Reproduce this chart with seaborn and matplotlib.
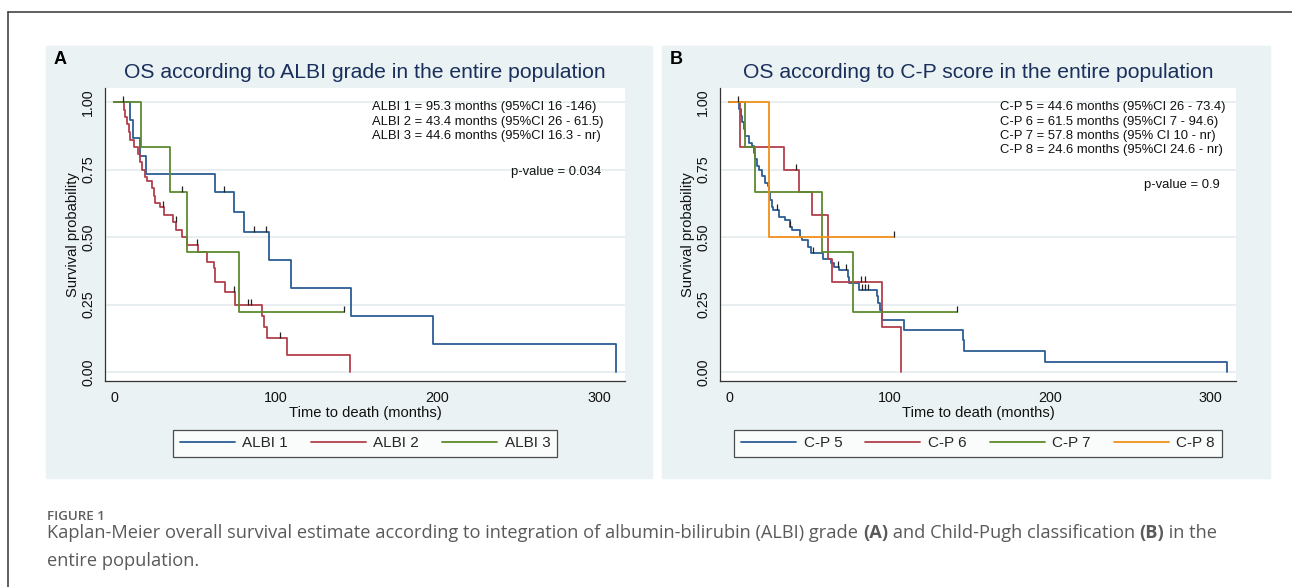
import numpy as np
import pandas as pd
import matplotlib
matplotlib.use("Agg")
import matplotlib.pyplot as plt
import seaborn as sns
from matplotlib.patches import Rectangle
from matplotlib.lines import Line2D

# ---- panel A: ALBI grade (Kaplan-Meier steps) ----
albi1_time = [0, 9.9, 11.5, 16.1, 19.8, 62.5, 73.8, 80.4, 95.5, 109.3, 146.5, 196.9, 310.3]
albi1_surv = [1.0, 0.933, 0.867, 0.80, 0.733, 0.667, 0.593, 0.519, 0.415, 0.311, 0.207, 0.104, 0.0]
albi1_cens = [67.6, 86.6, 93.8]

albi2_time = [0, 6.2, 6.8, 7.8, 8.9, 9.9, 12.0, 14.4, 15.7, 17.1, 18.8, 20.2, 23.3, 24.3, 25.4,
              28.0, 31.0, 36.0, 38.4, 42.0, 45.0, 52.0, 57.3, 61.4, 62.5, 68.6, 74.8, 91.3, 92.4,
              94.6, 107.0, 145.9]
albi2_surv = [1.0, 0.972, 0.944, 0.917, 0.889, 0.861, 0.833, 0.806, 0.778, 0.750, 0.722, 0.708,
              0.681, 0.653, 0.625, 0.612, 0.583, 0.555, 0.527, 0.500, 0.472, 0.445, 0.408, 0.384,
              0.334, 0.297, 0.248, 0.208, 0.166, 0.125, 0.062, 0.0]
albi2_cens = [5.2, 30.3, 38.1, 51.1, 73.8, 83.0, 84.7, 102.7]

albi3_time = [0, 16.5, 34.6, 45.0, 77.1, 141.9]
albi3_surv = [1.0, 0.833, 0.667, 0.444, 0.222, 0.222]
albi3_cens = [41.9, 141.9]

# ---- panel B: Child-Pugh score ----
cp5_time = [0, 6.0, 7.0, 8.0, 9.0, 10.1, 12.0, 14.0, 15.2, 16.0, 17.0, 18.5, 20.4, 22.0, 24.0,
            25.0, 25.5, 26.5, 27.5, 30.7, 35.0, 37.9, 39.0, 44.0, 45.1, 49.0, 51.1, 58.5, 63.5,
            65.6, 68.6, 73.8, 74.8, 80.6, 91.9, 92.8, 94.0, 95.4, 109.2, 145.5, 146.3, 196.8, 310.4]
cp5_surv = [1.0, 0.975, 0.95, 0.925, 0.90, 0.875, 0.85, 0.838, 0.813, 0.788, 0.763, 0.75, 0.725,
            0.70, 0.688, 0.663, 0.638, 0.613, 0.60, 0.575, 0.563, 0.538, 0.525, 0.50, 0.488, 0.463,
            0.44, 0.42, 0.405, 0.39, 0.378, 0.353, 0.33, 0.305, 0.28, 0.255, 0.23, 0.193, 0.156,
            0.117, 0.079, 0.038, 0.0]
cp5_cens = [5.2, 30.0, 38.1, 52.1, 67.6, 72.8, 83.0, 84.5, 86.2]

cp6_time = [0, 6.8, 34.2, 43.3, 51.8, 61.4, 64.1, 95.0, 106.8]
cp6_surv = [1.0, 0.833, 0.75, 0.667, 0.583, 0.417, 0.333, 0.167, 0.0]
cp6_cens = [41.9, 82.4, 84.5]

cp7_time = [0, 9.9, 16.1, 57.9, 76.9, 141.8]
cp7_surv = [1.0, 0.833, 0.667, 0.444, 0.222, 0.222]
cp7_cens = [141.8]

cp8_time = [0, 24.5, 102.7]
cp8_surv = [1.0, 0.5, 0.5]
cp8_cens = [102.7]

W, H = 1292, 587
BG = "#eaf2f3"
BLUE, RED, GREEN, ORANGE = "#2c5d94", "#b2404c", "#5d8a2f", "#f0901a"
ARIAL = ["Liberation Sans", "DejaVu Sans"]

sns.set_theme(style="white")
plt.rcParams["font.family"] = ARIAL

fig = plt.figure(figsize=(W / 100, H / 100), dpi=100)


def fx(px):
    return px / W


def fy(py):
    return 1 - py / H


def km(ax, t, s, cens, color, label):
    df = pd.DataFrame({"time": t, "surv": s})
    sns.lineplot(data=df, x="time", y="surv", ax=ax, drawstyle="steps-post", color=color,
                 lw=1.3, estimator=None, sort=False, label=label, legend=False)
    idx = np.searchsorted(np.array(t), np.array(cens), side="right") - 1
    lev = np.array(s)[idx]
    ax.vlines(cens, lev, lev + 0.022, color="#222222", lw=0.9, zorder=5)


notes_x = {"A": 372, "B": 1000}
ptxt_x = {"A": 601, "B": 1220}


def panel(x0, x1, ax_l, ax_r, letter, title, series, notes, ptxt, py_p):
    fig.patches.append(Rectangle((fx(x0), fy(478)), fx(x1 - x0), (478 - 46) / H,
                                 transform=fig.transFigure, color=BG, zorder=-10))
    ax = fig.add_axes([fx(ax_l), fy(381), fx(ax_r - ax_l), (381 - 88) / H])
    ax.set_facecolor("white")
    for t, s, c, col, lab in series:
        km(ax, t, s, c, col, lab)
    ax.set_xlim(-5.8, 316)
    ax.set_ylim(-0.033, 1.052)
    ax.set_xticks([0, 100, 200, 300])
    ax.set_yticks([0, 0.25, 0.5, 0.75, 1.0])
    ax.set_yticklabels(["0.00", "0.25", "0.50", "0.75", "1.00"], rotation=90, va="center")
    ax.yaxis.grid(True, color="#e3ebed", lw=1.1)
    ax.xaxis.grid(False)
    for sp in ["top", "right"]:
        ax.spines[sp].set_visible(False)
    for sp in ["left", "bottom"]:
        ax.spines[sp].set_color("#333333")
        ax.spines[sp].set_linewidth(0.9)
    ax.tick_params(axis="both", direction="out", length=4, width=0.9, color="#333333",
                   labelsize=10.3, labelcolor="#111111", pad=3)
    ax.set_xlabel("Time to death (months)", fontsize=10.6, color="#111111", labelpad=1)
    ax.set_ylabel("Survival probability", fontsize=10.6, color="#111111", labelpad=1)
    handles = [Line2D([], [], color=col, lw=1.3) for _, _, _, col, _ in series]
    labels = [lab for _, _, _, _, lab in series]
    leg = ax.legend(handles, labels, loc="center", bbox_to_anchor=(0.5, -0.213), ncol=len(series),
                    frameon=True, fancybox=False, edgecolor="#222222", fontsize=11,
                    handlelength=3.6, columnspacing=1.5, handletextpad=0.5,
                    borderpad=0.45)
    leg.get_frame().set_linewidth(0.9)
    fig.text(fx(x0 + 8), fy(60), letter, fontsize=13, fontweight="bold", va="center",
             color="black")
    fig.text(fx((ax_l + ax_r) / 2), fy(72), title, fontsize=15.2, ha="center",
             va="center", color="#1a2f5c")
    for i, n in enumerate(notes):
        fig.text(fx(notes_x[letter]), fy(107 + 14.5 * i), n, fontsize=9.4, va="center",
                 color="#111111")
    fig.text(fx(ptxt_x[letter]), fy(py_p), ptxt, fontsize=9.4, va="center", ha="right",
             color="#111111")
    return ax


panel(46, 652, 105, 625, "A", "OS according to ALBI grade in the entire population",
      [(albi1_time, albi1_surv, albi1_cens, BLUE, "ALBI 1"),
       (albi2_time, albi2_surv, albi2_cens, RED, "ALBI 2"),
       (albi3_time, albi3_surv, albi3_cens, GREEN, "ALBI 3")],
      ["ALBI 1 = 95.3 months (95%CI 16 -146)",
       "ALBI 2 = 43.4 months (95%CI 26 - 61.5)",
       "ALBI 3 = 44.6 months (95%CI 16.3 - nr)"],
      "p-value = 0.034", 172)

panel(662, 1270, 720, 1236, "B", "OS according to C-P score in the entire population",
      [(cp5_time, cp5_surv, cp5_cens, BLUE, "C-P 5"),
       (cp6_time, cp6_surv, cp6_cens, RED, "C-P 6"),
       (cp7_time, cp7_surv, cp7_cens, GREEN, "C-P 7"),
       (cp8_time, cp8_surv, cp8_cens, ORANGE, "C-P 8")],
      ["C-P 5 = 44.6 months (95%CI 26 - 73.4)",
       "C-P 6 = 61.5 months (95%CI 7 - 94.6)",
       "C-P 7 = 57.8 months (95% CI 10 - nr)",
       "C-P 8 = 24.6 months (95%CI 24.6 - nr)"],
      "p-value = 0.9", 185)

# outer frame of the figure box
fig.add_artist(Line2D([fx(8), 1], [fy(12), fy(12)], transform=fig.transFigure,
                      color="#444444", lw=1.2))
fig.add_artist(Line2D([fx(8), fx(8)], [fy(12), 0], transform=fig.transFigure,
                      color="#444444", lw=1.2))

# caption
CAP = ["Open Sans", "DejaVu Sans"]
fig.text(fx(47), fy(517), "FIGURE 1", fontsize=9.6, color="#5f5f5f", family=CAP,
         fontweight="semibold", va="center")
rend = fig.canvas.get_renderer()
runs = [("Kaplan-Meier overall survival estimate according to integration of albumin-bilirubin (ALBI) grade ", "normal"),
        ("(A)", "bold"),
        (" and Child-Pugh classification ", "normal"),
        ("(B)", "bold"),
        (" in the", "normal")]
x = fx(47)
for s, w in runs:
    t = fig.text(x, fy(533), s, fontsize=13.15, color="#5a5a5a", family=CAP, fontweight=w,
                 va="center")
    x += t.get_window_extent(renderer=rend).width / fig.bbox.width
fig.text(fx(47), fy(561), "entire population.", fontsize=13.15, color="#5a5a5a", family=CAP,
         va="center")

fig.savefig("out.png", dpi=100, facecolor="white")
